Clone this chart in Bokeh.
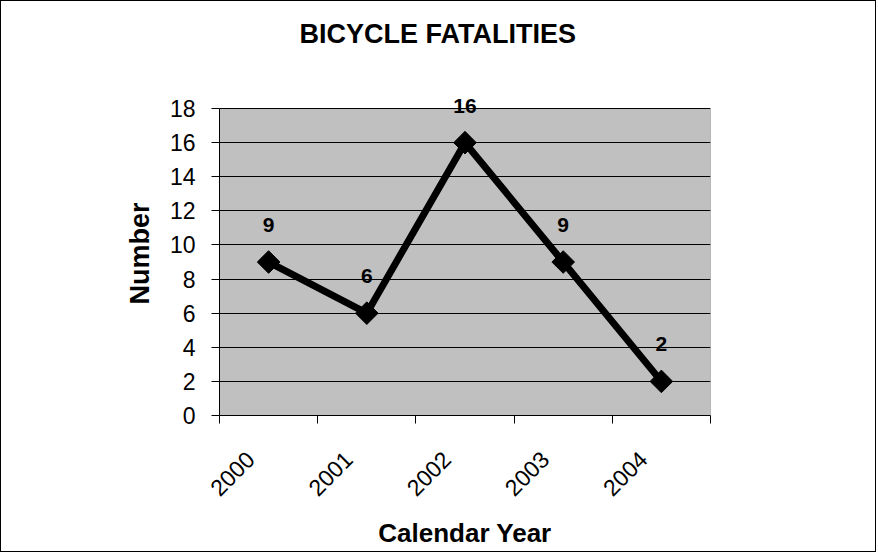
import math
from bokeh.plotting import figure
from bokeh.models import (ColumnDataSource, FixedTicker, Label, Range1d, BoxAnnotation,
                          LinearAxis)
from bokeh.embed import file_html
from bokeh.resources import INLINE

title_text = "BICYCLE FATALITIES"
years = ["2000", "2001", "2002", "2003", "2004"]
fatalities = [9, 6, 16, 9, 2]
y_ticks = [0, 2, 4, 6, 8, 10, 12, 14, 16, 18]

xpos = [i + 0.5 for i in range(len(years))]
src = ColumnDataSource(dict(x=xpos, y=fatalities))
y_max = max(y_ticks)

FONT = "Liberation Sans"
NBSP = "\u00a0"

# frame is a bit taller than the plot area so the top data label is not clipped
p = figure(width=876, height=552, output_backend="svg", toolbar_location=None,
           x_range=Range1d(0, len(years)), y_range=Range1d(0, y_max + 1),
           min_border_left=218, min_border_right=167, min_border_top=90, min_border_bottom=138,
           title=title_text)
p.styles = {"border": "1px solid #000000"}

# invisible (white on white) spacer between the frame and the title
spacer = LinearAxis(ticker=FixedTicker(ticks=[xpos[0]]), major_tick_out=33, major_tick_in=0,
                    minor_tick_out=0, minor_tick_in=0, axis_line_color=None,
                    major_tick_line_color="white", minor_tick_line_color=None,
                    major_label_overrides={xpos[0]: ""}, major_label_standoff=0,
                    major_label_text_font_size="0px")
p.add_layout(spacer, "above")

p.title.text_font = FONT
p.title.text_font_size = "27px"
p.title.text_font_style = "bold"
p.title.text_color = "black"
p.title.align = "left"
p.title.offset = 80
p.title.standoff = 20

p.background_fill_color = "white"
p.border_fill_color = "white"
p.outline_line_color = None

# gray plot area
p.add_layout(BoxAnnotation(left=0, right=len(years), bottom=0, top=y_max, level="image",
                           fill_color="#C0C0C0", fill_alpha=1.0,
                           line_color="#808080", line_width=1, line_alpha=1.0))

# x axis
xa = p.below[0]
xa.ticker = FixedTicker(ticks=xpos, minor_ticks=list(range(len(years) + 1)))
xa.major_label_overrides = {x: y + NBSP * 4 for x, y in zip(xpos, years)}
xa.major_label_orientation = math.pi / 4
xa.major_tick_out = 0
xa.major_tick_in = 0
xa.minor_tick_out = 8
xa.minor_tick_in = 0
xa.minor_tick_line_color = "black"
xa.axis_line_color = "black"
xa.major_label_text_font = FONT
xa.major_label_text_font_size = "23px"
xa.major_label_text_color = "black"
xa.major_label_standoff = 14
xa.axis_label = "Calendar Year"
xa.axis_label_text_font = FONT
xa.axis_label_text_font_size = "26px"
xa.axis_label_text_font_style = "bold"
xa.axis_label_text_color = "black"
xa.axis_label_standoff = 5

# y axis
ya = p.left[0]
ya.ticker = FixedTicker(ticks=y_ticks)
ya.bounds = (0, y_max)
ya.major_tick_out = 8
ya.major_tick_in = 0
ya.minor_tick_out = 0
ya.minor_tick_in = 0
ya.major_tick_line_color = "black"
ya.axis_line_color = "black"
ya.major_label_text_font = FONT
ya.major_label_text_font_size = "23px"
ya.major_label_text_color = "black"
ya.major_label_standoff = 16
ya.axis_label = "Number"
ya.axis_label_text_font = FONT
ya.axis_label_text_font_size = "27px"
ya.axis_label_text_font_style = "bold"
ya.axis_label_text_color = "black"
ya.axis_label_standoff = 12

p.xgrid.grid_line_color = None
p.ygrid.grid_line_color = "black"
p.ygrid.grid_line_width = 1
p.ygrid.bounds = (0, len(years))

p.line("x", "y", source=src, line_color="black", line_width=7)
p.scatter("x", "y", source=src, marker="square", size=16, angle=math.pi / 4,
          fill_color="black", line_color="black")

for xv, yv in zip(xpos, fatalities):
    p.add_layout(Label(x=xv, y=yv, y_offset=37, text=str(yv),
                       text_align="center", text_baseline="middle",
                       text_font=FONT, text_font_size="21px", text_font_style="bold",
                       text_color="black"))

open("out.html", "w").write(file_html(p, INLINE))
